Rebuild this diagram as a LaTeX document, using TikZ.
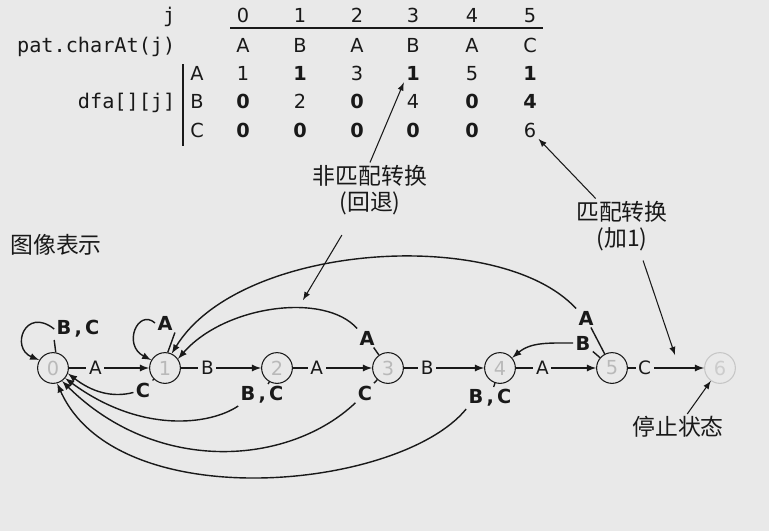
\documentclass[tikz,border=0pt]{standalone}
\usepackage{fontspec}
\setmainfont{DejaVu Sans}
\newfontfamily\codefont{DejaVu Sans Mono}
\newfontfamily\cjk{Noto Sans CJK SC}
\usepackage{xcolor}
\usetikzlibrary{calc}
\tikzset{>=latex}
\definecolor{paper}{RGB}{233,233,233}
\definecolor{ink}{RGB}{25,25,25}
\tikzset{
  state/.style={circle,draw=ink,line width=0.6pt,minimum size=17.5pt,inner sep=0pt,text=gray!55,font=\fontsize{11}{11}\selectfont},
  cell/.style={anchor=base,inner sep=1pt,font=\fontsize{11}{11}\selectfont},
  code/.style={anchor=base east,inner sep=0pt,font=\codefont\fontsize{11.5}{12}\selectfont},
  lab/.style={fill=paper,inner sep=1.5pt,font=\fontsize{10.5}{11}\selectfont},
  blab/.style={inner sep=1pt,font=\bfseries\fontsize{11}{12}\selectfont},
  note/.style={align=center,inner sep=1pt,font=\cjk\fontsize{13}{15}\selectfont},
  thin/.style={line width=0.6pt}
}

\begin{document}
\begin{tikzpicture}[x=0.02cm,y=-0.02cm,line width=0.8pt,color=ink]
  \fill[paper] (0,0) rectangle (769,531);
  \useasboundingbox (0,0) rectangle (769,531);

  % Table
  \node[code] (jlab) at (176,22) {j};
  \node[code] (patlab) at (176,52) {pat.charAt(j)};
  \node[code] (dfalab) at (176,108) {dfa[][j]};
  \foreach \col/\x/\ch/\va/\vb/\vc in {
      0/243/A/1/\textbf{0}/\textbf{0},
      1/300/B/\textbf{1}/2/\textbf{0},
      2/357/A/3/\textbf{0}/\textbf{0},
      3/413/B/\textbf{1}/4/\textbf{0},
      4/472/A/5/\textbf{0}/\textbf{0},
      5/530/C/\textbf{1}/\textbf{4}/6} {
    \node[cell] (j\col) at (\x,22) {\col};
    \node[cell] (p\col) at (\x,52) {\ch};
    \node[cell] (dA\col) at (\x,80) {\va};
    \node[cell] (dB\col) at (\x,108) {\vb};
    \node[cell] (dC\col) at (\x,137) {\vc};
  }
  \foreach \r/\y in {A/80,B/108,C/137}
    \node[cell] (r\r) at (197,\y) {\r};
  \draw[line width=1pt] (230,28) -- (543,28);
  \draw (183,64) -- (183,146);

  % States
  \foreach \i/\x in {0/53,1/165,2/277,3/388,4/500,5/612}
    \node[state] (s\i) at (\x,368) {\i};
  \node[state,draw=gray!45,text=gray!40] (s6) at (720,368) {6};

  % Match transitions
  \draw[->] (s0) -- node[lab,pos=0.33] {A} (s1);
  \draw[->] (s1) -- node[lab,pos=0.33] {B} (s2);
  \draw[->] (s2) -- node[lab,pos=0.3] {A} (s3);
  \draw[->] (s3) -- node[lab,pos=0.29] {B} (s4);
  \draw[->] (s4) -- node[lab,pos=0.33] {A} (s5);
  \draw[->] (s5) -- node[lab,pos=0.22] {C} (s6);

  % Loops
  \node[blab] (l0) at (78,329) {B\,,\,C};
  \draw (s0.80) -- (l0.south west);
  \draw[->] (l0.west) .. controls (25,306) and (10,348) .. (s0.150);
  \node[blab] (l1) at (165,323) {A};
  \draw (s1.80) -- (l1.south east);
  \draw[->] (l1.west) .. controls (138,308) and (122,345) .. (s1.150);

  % Back to 0
  \node[blab] (c10) at (143,390) {C};
  \draw (s1) -- (c10);
  \draw[->] (c10) .. controls (112,398) and (92,392) .. (s0.-20);
  \node[blab] (bc20) at (262,395) {B\,,\,C};
  \draw (s2) -- (bc20);
  \draw[->] (bc20.south west) .. controls (210,425) and (141,434) .. (s0.-40);
  \node[blab] (c30) at (365,393) {C};
  \draw (s3) -- (c30);
  \draw[->] (c30.south west) .. controls (290,465) and (158,476) .. (s0.-55);
  \node[blab] (bc40) at (490,398) {B\,,\,C};
  \draw (s4) -- (bc40);
  \draw[->] (bc40.south west) .. controls (400,490) and (117,518) .. (s0.-75);

  % Back to 1 and 4
  \node[blab] (a31) at (367,338) {A};
  \draw (s3) -- (a31);
  \draw[->] (a31.north west) .. controls (325,292) and (225,305) .. (s1.35);
  \node[blab] (a51) at (586,318) {A};
  \draw (s5) -- (a51);
  \draw[->] (a51.north west) .. controls (500,226) and (240,242) .. (s1.65);
  \node[blab] (b54) at (583,343) {B};
  \draw (s5) -- (b54);
  \draw[->] (b54) to[out=180,in=40] (s4);

  % Notes
  \node[note] (pic) at (56,245) {图像表示};
  \node[note] (fb) at (370,190) {非匹配转换\\(回退)};
  \node[note] (mb) at (622,226) {匹配转换\\(加1)};
  \node[note] (stop) at (678,427) {停止状态};
  \coordinate (fbtip) at (303,300);
  \coordinate (mbtip) at (675,355);
  \draw[->,thin] (fb.north) -- (dA3.south west);
  \draw[->,thin] ([xshift=-16pt,yshift=-10pt]fb.south) -- (fbtip);
  \draw[->,thin] (mb) -- (dC5);
  \draw[->,thin] ([xshift=12pt,yshift=-4pt]mb.south) -- (mbtip);
  \draw[->,thin] (stop) -- (s6);
\end{tikzpicture}
\end{document}
